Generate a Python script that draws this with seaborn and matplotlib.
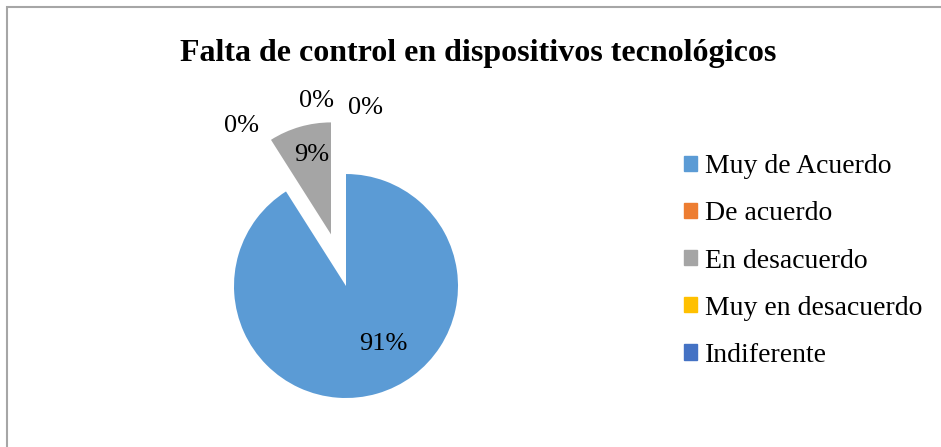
import matplotlib
matplotlib.use("Agg")
import matplotlib.pyplot as plt
import matplotlib.patches as mpatches
import seaborn as sns

categories = ["Muy de Acuerdo", "De acuerdo", "En desacuerdo", "Muy en desacuerdo", "Indiferente"]
values = [91, 0, 9, 0, 0]
pct_labels = ["91%", "0%", "9%", "0%", "0%"]
colors = ["#5B9BD5", "#ED7D31", "#A5A5A5", "#FFC000", "#4472C4"]
explode = [0, 0, 0.48, 0, 0]

# where Excel put each data label (pie units, centre = 0,0)
label_pos = [(0.33, -0.52), (-0.93, 1.43), (-0.31, 1.17), (-0.26, 1.65), (0.17, 1.59)]

sns.set_theme(style="white")
plt.rcParams["font.family"] = ["Liberation Serif", "DejaVu Serif"]
plt.rcParams["text.color"] = "black"

fig = plt.figure(figsize=(9.41, 4.47), dpi=100)
ax = fig.add_axes([10 / 941, 0, 672 / 941, 1])

wedges, _ = ax.pie(values, colors=colors, explode=explode, startangle=90,
                   counterclock=False, radius=1, frame=False,
                   wedgeprops=dict(linewidth=0))
for txt, (x, y) in zip(pct_labels, label_pos):
    ax.text(x, y, txt, ha="center", va="center", fontsize=19, color="black")

ax.set_xlim(-3, 3)
ax.set_ylim(-1.4375, 2.554)
ax.set_aspect("auto")
ax.axis("off")

fig.text(478 / 941, 1 - 53 / 447, "Falta de control en dispositivos tecnológicos",
         ha="center", va="center", fontsize=23, fontweight="bold", color="black")

handles = [mpatches.Patch(color=c, label=l) for c, l in zip(colors, categories)]
leg = fig.legend(handles=handles, loc="center left", bbox_to_anchor=(684 / 941, 1 - 261 / 447),
                 frameon=False, fontsize=20, handlelength=0.47, handleheight=0.47,
                 handletextpad=0.3, labelspacing=0.8, borderpad=0, borderaxespad=0)
for t in leg.get_texts():
    t.set_color("black")

fig.add_artist(plt.Rectangle((7 / 941, -0.1), 1.1, 1.1 - 7 / 447, transform=fig.transFigure,
                             fill=False, edgecolor="#a6a6a6", linewidth=1.5))

fig.savefig("out.png", dpi=100)
